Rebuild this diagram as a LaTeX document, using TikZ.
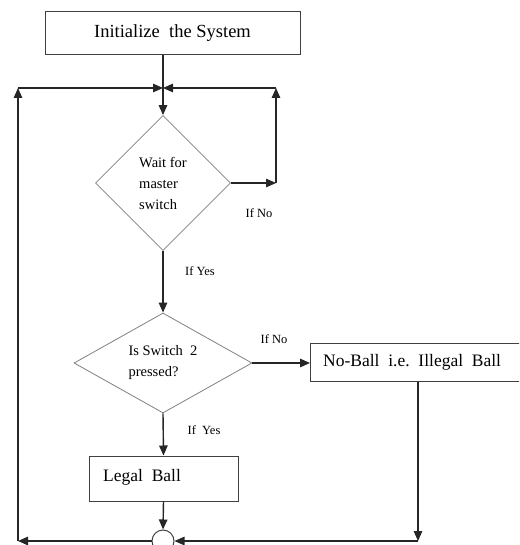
\documentclass[tikz,border=0pt]{standalone}
\usepackage{fontspec}
\setmainfont{Liberation Serif}
\usetikzlibrary{arrows.meta,shapes.geometric}
\definecolor{box-gray}{RGB}{64,64,64}
\definecolor{dia-gray}{RGB}{128,128,128}
\tikzset{
  flow/.style={-{Triangle[length=10pt,width=8.5pt]}, line width=1.4pt, black!85},
  stepbox/.style={draw=box-gray, line width=1pt, rectangle, inner sep=0pt},
  askbox/.style={draw=dia-gray, line width=0.8pt, diamond, inner sep=0pt, align=left, font=\fontsize{14.5}{21}\selectfont},
  tag/.style={font=\fontsize{12.5}{14}\selectfont, inner sep=0pt}
}

\begin{document}
\begin{tikzpicture}[x=1pt,y=-1pt]
  \useasboundingbox (0,0) rectangle (519,545);
  \clip (0,0) rectangle (519,545);

  % boxes
  \node[stepbox, minimum width=255pt, minimum height=43pt, font=\fontsize{18.5}{21}\selectfont]
    (init) at (172.5,33.5) {Initialize\ \ the System};
  \node[askbox, minimum width=135pt, minimum height=135pt]
    (waitsw) at (163,183) {Wait for\\master\\switch};
  \node[askbox, minimum width=178pt, minimum height=100pt, aspect=1.78]
    (sw2) at (163,363) {Is Switch\ \ 2\\pressed?};
  \node[stepbox, minimum width=215pt, minimum height=38pt, anchor=west]
    (noball) at (310,362) {};
  \node[font=\fontsize{17.5}{20}\selectfont, anchor=west, inner sep=0pt]
    (noballtxt) at (323,362) {No-Ball\ \ i.e.\ \ Illegal\ \ Ball};
  \node[stepbox, minimum width=149pt, minimum height=45pt]
    (legal) at (163.5,478.5) {};
  \node[font=\fontsize{17.5}{20}\selectfont, anchor=west, inner sep=0pt]
    (legaltxt) at (103,477) {Legal\ \ Ball};
  \node[draw=box-gray, line width=1pt, circle, minimum size=22pt, inner sep=0pt]
    (join) at (163,541) {};

  % corner points
  \coordinate (topL) at (18,88);
  \coordinate (topM) at (163,88);
  \coordinate (topR) at (276,88);
  \coordinate (rgtTurn) at (276,183);
  \coordinate (botL) at (18,541);
  \coordinate (botR) at (418,541);

  % connectors
  \draw[flow] (init.south -| topM) -- (waitsw.north);
  \draw[flow] (botL) -- (topL);
  \draw[flow] (topL) -- (topM);
  \draw[flow] (waitsw.east) -- (rgtTurn);
  \draw[flow] (rgtTurn) -- (topR);
  \draw[flow] (topR) -- (topM);
  \draw[flow] (waitsw.south) -- (sw2.north);
  \draw[flow] (sw2.east) -- (sw2.east -| noball.west);
  \draw[flow] (sw2.south) -- (legal.north);
  \draw[flow] (legal.south) -- (join.north);
  \draw[flow] (noball.south -| botR) -- (botR);
  \draw[flow] (botR) -- (join.east);
  \draw[flow] (join.west) -- (botL);

  % labels
  \node[tag] (noA) at (259,213) {If No};
  \node[tag] (yesA) at (200,271) {If Yes};
  \node[tag] (noB) at (274,339) {If No};
  \node[tag] (yesB) at (204,430) {If\ \ Yes};
\end{tikzpicture}
\end{document}
